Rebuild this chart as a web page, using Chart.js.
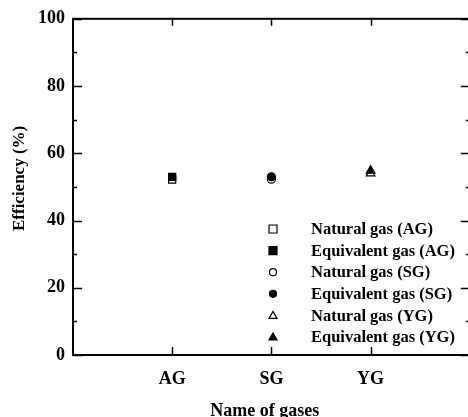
<!DOCTYPE html>
<html>
<head>
<meta charset="utf-8">
<script src="https://cdn.jsdelivr.net/npm/chart.js"></script>
<style>
  html, body { margin: 0; padding: 0; background: #fff; overflow: hidden; }
  #wrap { width: 476px; height: 417px; }
</style>
</head>
<body>
<div id="wrap"><canvas id="myChart"></canvas></div>
<script>
// categories on the x axis (placed at 1, 2, 3)
var categories = ['AG', 'SG', 'YG'];
// efficiency (%) per gas
var naturalGas = [52.2, 52.3, 54.0];
var equivalentGas = [53.0, 53.0, 54.8];
var pointShapes = ['rect', 'circle', 'triangle'];
var pointSizes = [5, 4, 5];
var yTicks = [0, 20, 40, 60, 80, 100];

var serif = '"Liberation Serif", "Times New Roman", serif';
Chart.defaults.font.family = serif;
Chart.defaults.color = '#000';

var datasets = [];
categories.forEach(function (cat, i) {
  datasets.push({
    label: 'Natural gas (' + cat + ')',
    data: [{ x: i + 1, y: naturalGas[i] }],
    pointStyle: pointShapes[i],
    pointRadius: pointSizes[i],
    backgroundColor: '#fff',
    borderColor: '#000',
    borderWidth: 1.2,
    showLine: false,
    order: 2
  });
  datasets.push({
    label: 'Equivalent gas (' + cat + ')',
    data: [{ x: i + 1, y: equivalentGas[i] }],
    pointStyle: pointShapes[i],
    pointRadius: pointSizes[i],
    backgroundColor: '#000',
    borderColor: '#000',
    borderWidth: 1.2,
    showLine: false,
    order: 1
  });
});

// frame, inward tick marks and the in-plot legend
var framePlugin = {
  id: 'frame',
  afterDraw: function (chart) {
    var c = chart.ctx, a = chart.chartArea;
    var xs = chart.scales.x, ys = chart.scales.y;
    c.save();
    c.strokeStyle = '#000';
    c.lineWidth = 2;
    c.strokeRect(a.left, a.top, a.right - a.left, a.bottom - a.top);
    c.lineWidth = 1.5;
    c.beginPath();
    for (var v = 0; v <= 100; v += 10) {
      var py = Math.round(ys.getPixelForValue(v)) + 0.5;
      var len = (v % 20 === 0) ? 9 : 4;
      c.moveTo(a.left, py); c.lineTo(a.left + len, py);
      c.moveTo(a.right, py); c.lineTo(a.right - len, py);
    }
    categories.forEach(function (cat, i) {
      var px = Math.round(xs.getPixelForValue(i + 1)) + 0.5;
      c.moveTo(px, a.bottom); c.lineTo(px, a.bottom - 8);
      c.moveTo(px, a.top); c.lineTo(px, a.top + 7);
    });
    c.stroke();

    // legend
    var mx = a.left + 200, tx = a.left + 238, y0 = a.bottom - 126, dy = 21.6;
    c.font = 'bold 16.5px ' + serif;
    c.textBaseline = 'middle';
    chart.data.datasets.forEach(function (ds, k) {
      var y = y0 + k * dy;
      c.lineWidth = 1.2;
      c.fillStyle = ds.backgroundColor;
      c.strokeStyle = '#000';
      c.beginPath();
      if (ds.pointStyle === 'rect') {
        c.rect(mx - 4, y - 4, 8, 8);
      } else if (ds.pointStyle === 'circle') {
        c.arc(mx, y, 3.5, 0, Math.PI * 2);
      } else {
        c.moveTo(mx, y - 4); c.lineTo(mx + 4, y + 3); c.lineTo(mx - 4, y + 3); c.closePath();
      }
      c.fill(); c.stroke();
      c.fillStyle = '#000';
      c.fillText(ds.label, tx, y + 1);
    });
    c.restore();
  }
};

new Chart(document.getElementById('myChart').getContext('2d'), {
  type: 'scatter',
  data: { datasets: datasets },
  plugins: [framePlugin],
  options: {
    responsive: true,
    maintainAspectRatio: false,
    animation: false,
    layout: { padding: { top: 16, right: 4, left: 0, bottom: 0 } },
    plugins: { legend: { display: false }, tooltip: { enabled: false } },
    scales: {
      x: {
        type: 'linear',
        min: 0,
        max: 4,
        afterFit: function (s) { s.height = 62; },
        afterBuildTicks: function (s) {
          s.ticks = categories.map(function (c, i) { return { value: i + 1 }; });
        },
        ticks: {
          padding: 14,
          font: { size: 18, weight: 'bold' },
          callback: function (v) { return categories[v - 1]; }
        },
        grid: { display: false, drawTicks: false },
        border: { display: false },
        title: {
          display: true,
          text: 'Name of gases   ',
          font: { size: 18, weight: 'bold', lineHeight: 0.6 },
          padding: { top: 0, bottom: 0 }
        }
      },
      y: {
        min: 0,
        max: 100,
        afterFit: function (s) { s.width = 73; },
        afterBuildTicks: function (s) {
          s.ticks = yTicks.map(function (v) { return { value: v }; });
        },
        ticks: {
          padding: 8,
          font: { size: 18, weight: 'bold' }
        },
        grid: { display: false, drawTicks: false },
        border: { display: false },
        title: {
          display: true,
          text: '    Efficiency (%)',
          font: { size: 17, weight: 'bold' },
          padding: { top: 9, bottom: 4 }
        }
      }
    }
  }
});
</script>
</body>
</html>
